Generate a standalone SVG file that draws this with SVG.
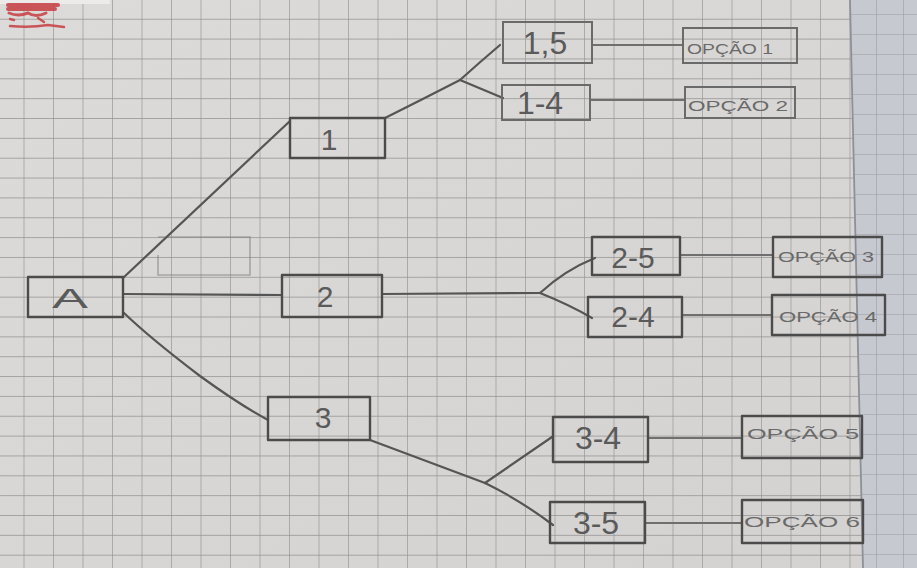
<svg xmlns="http://www.w3.org/2000/svg" width="917" height="568" viewBox="0 0 917 568">
  <defs>
    <!-- squared notebook paper -->
    <pattern id="grid" patternUnits="userSpaceOnUse" x="23.5" y="18.75" width="29.5" height="19.85">
      <path d="M0 0 V19.85 M0 0 H29.5" fill="none" stroke="#929292" stroke-width="1.3"/>
    </pattern>
    <pattern id="gridNext" patternUnits="userSpaceOnUse" x="12" y="14" width="27" height="20">
      <path d="M0 0 V20 M0 0 H27" fill="none" stroke="#9a9ca4" stroke-width="1.2"/>
    </pattern>
    <linearGradient id="shade" x1="0" y1="0" x2="1" y2="1">
      <stop offset="0" stop-color="#dddbd9"/>
      <stop offset="1" stop-color="#d4d2d0"/>
    </linearGradient>
    <style>
      .box { fill: none; stroke: #4b4b4b; stroke-width: 2.4; stroke-linejoin: round; }
      .opt { fill: none; stroke: #6a6a6a; stroke-width: 2; }
      .wire { fill: none; stroke: #555; stroke-width: 2.2; stroke-linecap: round; stroke-linejoin: round; }
      .wire-lt { fill: none; stroke: #6f6f6f; stroke-width: 1.8; stroke-linecap: round; }
      .big { font-family: "Liberation Sans", Arial, sans-serif; fill: #5a5a5a; text-anchor: middle; dominant-baseline: central; }
      .small { font-family: "Liberation Sans", Arial, sans-serif; fill: #6a6a6a; text-anchor: middle; dominant-baseline: central; font-size: 15px; }
    </style>
  </defs>

  <!-- paper -->
  <rect x="0" y="0" width="917" height="568" fill="url(#shade)"/>
  <rect x="0" y="0" width="917" height="568" fill="url(#grid)"/>
  <!-- facing page on the right -->
  <polygon points="850,0 917,0 917,568 863,568" fill="#c7c9d1"/>
  <polygon points="850,0 917,0 917,568 863,568" fill="url(#gridNext)"/>
  <path d="M850 0 L863 568" stroke="#8e9098" stroke-width="1.8" fill="none"/>

  <!-- red mark in the corner -->
  <rect x="0" y="0" width="110" height="4" fill="#ecebea"/>
  <g fill="none" stroke="#c9474c" stroke-linecap="round" opacity="0.9">
    <path d="M8 5 H58 M8 9 H55" stroke-width="4"/>
    <path d="M9 13 Q18 17 28 13 Q36 18 46 13" stroke-width="3"/>
    <path d="M10 19 L14 20 M38 18 L44 22" stroke-width="2.5"/>
    <path d="M10 26 Q30 28 48 25 L64 27" stroke-width="2.5"/>
  </g>

  <!-- erased sketch -->
  <path d="M158 255 V275 H250 V237 H158" fill="none" stroke="#7c7c7c" stroke-width="1.6" opacity="0.55"/>

  <!-- connectors -->
  <g id="connectors">
    <path class="wire" d="M123 278 L290 121"/>
    <path class="wire" d="M123 294 L282 295"/>
    <path class="wire" d="M124 313 Q150 338 200 376 Q240 405 268 420"/>
    <path class="wire" d="M385 118 Q425 98 460 80 Q480 62 500 45"/>
    <path class="wire" d="M460 80 L503 98"/>
    <path class="wire-lt" d="M592 45 H683"/>
    <path class="wire-lt" d="M590 100 H685"/>
    <path class="wire" d="M382 294 L540 293"/>
    <path class="wire" d="M540 293 Q565 270 595 258"/>
    <path class="wire" d="M540 293 Q570 305 592 318"/>
    <path class="wire-lt" d="M680 255 H773"/>
    <path class="wire-lt" d="M682 315 H772"/>
    <path class="wire" d="M370 440 L485 483"/>
    <path class="wire" d="M485 483 L552 437"/>
    <path class="wire" d="M485 483 Q520 500 553 525"/>
    <path class="wire-lt" d="M648 438 H742"/>
    <path class="wire-lt" d="M645 523 H742"/>
  </g>

  <!-- root -->
  <g id="node-A">
    <rect class="box" x="28" y="277" width="95" height="40"/>
    <text class="big" x="70" y="298" font-size="28" textLength="36" lengthAdjust="spacingAndGlyphs">A</text>
  </g>

  <!-- first level -->
  <g id="node-1">
    <rect class="box" x="290" y="118" width="95" height="40"/>
    <text class="big" x="329" y="139" font-size="30">1</text>
  </g>
  <g id="node-2">
    <rect class="box" x="282" y="275" width="100" height="42"/>
    <text class="big" x="325" y="296" font-size="30">2</text>
  </g>
  <g id="node-3">
    <rect class="box" x="268" y="397" width="102" height="43"/>
    <text class="big" x="323" y="417" font-size="30">3</text>
  </g>

  <!-- second level -->
  <g id="node-1-5">
    <rect class="opt" x="503" y="22" width="89" height="41"/>
    <text class="big" x="545" y="43" font-size="32" fill="#7a7a7a">1,5</text>
  </g>
  <g id="node-1-4">
    <rect class="opt" x="502" y="85" width="88" height="35"/>
    <text class="big" x="540" y="103" font-size="32" fill="#7a7a7a">1-4</text>
  </g>
  <g id="node-2-5">
    <rect class="box" x="592" y="237" width="88" height="38"/>
    <text class="big" x="633" y="257" font-size="30">2-5</text>
  </g>
  <g id="node-2-4">
    <rect class="box" x="588" y="297" width="94" height="40"/>
    <text class="big" x="633" y="316" font-size="30">2-4</text>
  </g>
  <g id="node-3-4">
    <rect class="box" x="553" y="417" width="95" height="45"/>
    <text class="big" x="598" y="438" font-size="32">3-4</text>
  </g>
  <g id="node-3-5">
    <rect class="box" x="550" y="502" width="95" height="41"/>
    <text class="big" x="596" y="523" font-size="32">3-5</text>
  </g>

  <!-- outcomes -->
  <g id="opcao-1">
    <rect class="opt" x="683" y="28" width="114" height="35"/>
    <text class="small" x="730" y="48" textLength="86" lengthAdjust="spacingAndGlyphs">OPÇÃO 1</text>
  </g>
  <g id="opcao-2">
    <rect class="opt" x="685" y="87" width="110" height="31"/>
    <text class="small" x="738" y="105" textLength="100" lengthAdjust="spacingAndGlyphs">OPÇÃO 2</text>
  </g>
  <g id="opcao-3">
    <rect class="box" x="773" y="237" width="109" height="40"/>
    <text class="small" x="826" y="256" textLength="96" lengthAdjust="spacingAndGlyphs">OPÇÃO 3</text>
  </g>
  <g id="opcao-4">
    <rect class="box" x="772" y="295" width="113" height="40"/>
    <text class="small" x="828" y="316" textLength="98" lengthAdjust="spacingAndGlyphs">OPÇÃO 4</text>
  </g>
  <g id="opcao-5">
    <rect class="box" x="742" y="416" width="120" height="42"/>
    <text class="small" x="803" y="433" font-size="17" textLength="112" lengthAdjust="spacingAndGlyphs">OPÇÃO 5</text>
  </g>
  <g id="opcao-6">
    <rect class="box" x="742" y="500" width="121" height="43"/>
    <text class="small" x="802" y="521" font-size="18" textLength="116" lengthAdjust="spacingAndGlyphs">OPÇÃO 6</text>
  </g>
</svg>
